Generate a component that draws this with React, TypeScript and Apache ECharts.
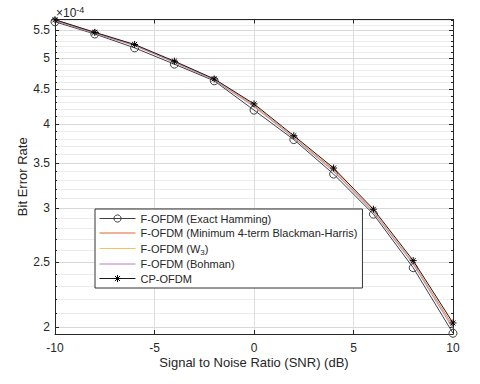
import React, { useEffect, useRef } from "react";
import * as echarts from "echarts";

const snr = [-10, -8, -6, -4, -2, 0, 2, 4, 6, 8, 10];
const exactHamming = [5.66, 5.43, 5.18, 4.9, 4.63, 4.19, 3.79, 3.37, 2.94, 2.45, 1.96];
const blackmanHarris = [5.7, 5.46, 5.23, 4.94, 4.65, 4.26, 3.82, 3.42, 2.97, 2.49, 2.01];
const w3 = [5.69, 5.45, 5.22, 4.93, 4.65, 4.25, 3.82, 3.41, 2.97, 2.49, 2.0];
const bohman = [5.68, 5.44, 5.22, 4.93, 4.64, 4.24, 3.81, 3.4, 2.96, 2.48, 1.99];
const cpOfdm = [5.7, 5.46, 5.24, 4.95, 4.66, 4.28, 3.84, 3.44, 2.99, 2.51, 2.03];

const majorTicks = [2, 2.5, 3, 3.5, 4, 4.5, 5, 5.5];
const minorTicks: number[] = [];
for (let i = 20; i <= 57; i++) {
  if (i % 5 !== 0) minorTicks.push(i / 10);
}

const seriesNames = [
  "F-OFDM (Exact Hamming)",
  "F-OFDM (Minimum 4-term Blackman-Harris)",
  "F-OFDM (W3)",
  "F-OFDM (Bohman)",
  "CP-OFDM",
];

const FONT = "'Liberation Sans', Arial, Helvetica, sans-serif";
const AXIS = "#262626";
const YMIN = 1.955;
const YMAX = 5.705;
const STAR = "path://M0,-5L0,5M-5,0L5,0M-3.5,-3.5L3.5,3.5M-3.5,3.5L3.5,-3.5";

const pair = (ys: number[]) => snr.map((x, i) => [x, ys[i]]);

export default function App() {
  const ref = useRef<HTMLDivElement>(null);
  useEffect(() => {
    if (!ref.current) return;
    const chart = echarts.init(ref.current, undefined, { renderer: "svg" });
    const logAxisBase = {
      type: "log" as const,
      logBase: 10,
      min: YMIN,
      max: YMAX,
    };
    const hiddenSym = { opacity: 0 };
    chart.setOption({
      animation: false,
      backgroundColor: "#fff",
      grid: { left: 55, right: 27, top: 19.5, bottom: 50, containLabel: false },
      graphic: [
        {
          type: "text",
          left: 56,
          top: 5,
          style: {
            text: "×10{sup|-4}",
            fontSize: 12,
            fontFamily: FONT,
            fill: AXIS,
            rich: { sup: { fontSize: 9, padding: [0, 0, 7, 0], fontFamily: FONT, fill: AXIS } },
          },
        },
      ],
      xAxis: [
        {
          type: "value",
          min: -10,
          max: 10,
          interval: 5,
          position: "bottom",
          axisLine: { show: true, onZero: false, lineStyle: { color: AXIS, width: 1 } },
          axisTick: { show: true, inside: true, length: 4, lineStyle: { color: AXIS } },
          axisLabel: { color: AXIS, fontSize: 12, fontFamily: FONT, margin: 8 },
          splitLine: { show: true, lineStyle: { color: "#dedede", width: 1 } },
          name: "Signal to Noise Ratio (SNR) (dB)",
          nameLocation: "middle",
          nameGap: 22,
          nameMoveOverlap: false,
          nameTextStyle: { color: AXIS, fontSize: 13, fontFamily: FONT },
        },
        {
          type: "value",
          min: -10,
          max: 10,
          interval: 5,
          position: "top",
          axisLine: { show: true, onZero: false, lineStyle: { color: AXIS, width: 1 } },
          axisTick: { show: true, inside: true, length: 4, lineStyle: { color: AXIS } },
          axisLabel: { show: false },
          splitLine: { show: false },
        },
      ],
      yAxis: [
        {
          ...logAxisBase,
          position: "left",
          axisLine: { show: true, onZero: false, lineStyle: { color: AXIS, width: 1 } },
          axisTick: { show: true, inside: true, length: 4, lineStyle: { color: AXIS }, customValues: majorTicks },
          axisLabel: {
            color: AXIS,
            fontSize: 12,
            fontFamily: FONT,
            margin: 5,
            customValues: majorTicks,
            formatter: (v: number) => String(Math.round(v * 10) / 10),
          },
          splitLine: { show: true, lineStyle: { color: "#d8d8d8", width: 1 } },
          name: "Bit Error Rate",
          nameLocation: "middle",
          nameGap: 26,
          nameMoveOverlap: false,
          nameTextStyle: { color: AXIS, fontSize: 13, fontFamily: FONT },
        },
        {
          ...logAxisBase,
          position: "left",
          axisLine: { show: false, onZero: false },
          axisTick: { show: true, inside: true, length: 2, lineStyle: { color: AXIS }, customValues: minorTicks },
          axisLabel: { show: false },
          splitLine: { show: true, lineStyle: { color: "#ececec", width: 1 } },
        },
        {
          ...logAxisBase,
          position: "right",
          axisLine: { show: true, onZero: false, lineStyle: { color: AXIS, width: 1 } },
          axisTick: { show: true, inside: true, length: 4, lineStyle: { color: AXIS }, customValues: majorTicks },
          axisLabel: { show: false },
          splitLine: { show: false },
        },
        {
          ...logAxisBase,
          position: "right",
          axisLine: { show: false, onZero: false },
          axisTick: { show: true, inside: true, length: 2, lineStyle: { color: AXIS }, customValues: minorTicks },
          axisLabel: { show: false },
          splitLine: { show: false },
        },
      ],
      legend: {
        orient: "vertical",
        left: 95,
        top: 209,
        itemWidth: 36,
        itemHeight: 9,
        itemGap: 1.5,
        padding: [3, 5, 3, 4],
        backgroundColor: "#fff",
        borderColor: "#333",
        borderWidth: 1,
        borderRadius: 0,
        lineStyle: { width: 1 },
        data: [
          { name: seriesNames[0], itemStyle: { borderWidth: 1 } },
          { name: seriesNames[1], itemStyle: hiddenSym },
          { name: seriesNames[2], itemStyle: hiddenSym },
          { name: seriesNames[3], itemStyle: hiddenSym },
          { name: seriesNames[4], itemStyle: { borderWidth: 1 } },
        ],
        formatter: (name: string) => (name === "F-OFDM (W3)" ? "F-OFDM (W{sub|3})" : name),
        textStyle: {
          fontSize: 11,
          lineHeight: 13,
          color: AXIS,
          fontFamily: FONT,
          rich: { sub: { fontSize: 8, lineHeight: 13, padding: [7, 0, 0, 0], fontFamily: FONT, color: AXIS } },
        },
      },
      series: [
        {
          name: seriesNames[0],
          type: "line",
          data: pair(exactHamming),
          symbol: "circle",
          symbolSize: 8,
          showAllSymbol: true,
          lineStyle: { color: "#404040", width: 1 },
          itemStyle: { color: "rgba(255,255,255,0)", borderColor: "#404040", borderWidth: 1 },
          z: 2,
        },
        {
          name: seriesNames[1],
          type: "line",
          data: pair(blackmanHarris),
          symbol: "none",
          lineStyle: { color: "#E0652E", width: 0.9 },
          itemStyle: { color: "#E0652E" },
          z: 3,
        },
        {
          name: seriesNames[2],
          type: "line",
          data: pair(w3),
          symbol: "none",
          lineStyle: { color: "#F0C560", width: 0.9 },
          itemStyle: { color: "#F0C560" },
          z: 3,
        },
        {
          name: seriesNames[3],
          type: "line",
          data: pair(bohman),
          symbol: "none",
          lineStyle: { color: "#B57CC6", width: 0.9 },
          itemStyle: { color: "#B57CC6" },
          z: 3,
        },
        {
          name: seriesNames[4],
          type: "line",
          data: pair(cpOfdm),
          symbol: STAR,
          symbolSize: 7,
          showAllSymbol: true,
          lineStyle: { color: "#1a1a1a", width: 1 },
          itemStyle: { color: "rgba(0,0,0,0)", borderColor: "#000", borderWidth: 1 },
          z: 4,
        },
      ],
    });
    return () => chart.dispose();
  }, []);
  return (
    <div
      ref={ref}
      style={{ position: "fixed", left: 0, top: 0, width: 480, height: 384, background: "#fff" }}
    />
  );
}
